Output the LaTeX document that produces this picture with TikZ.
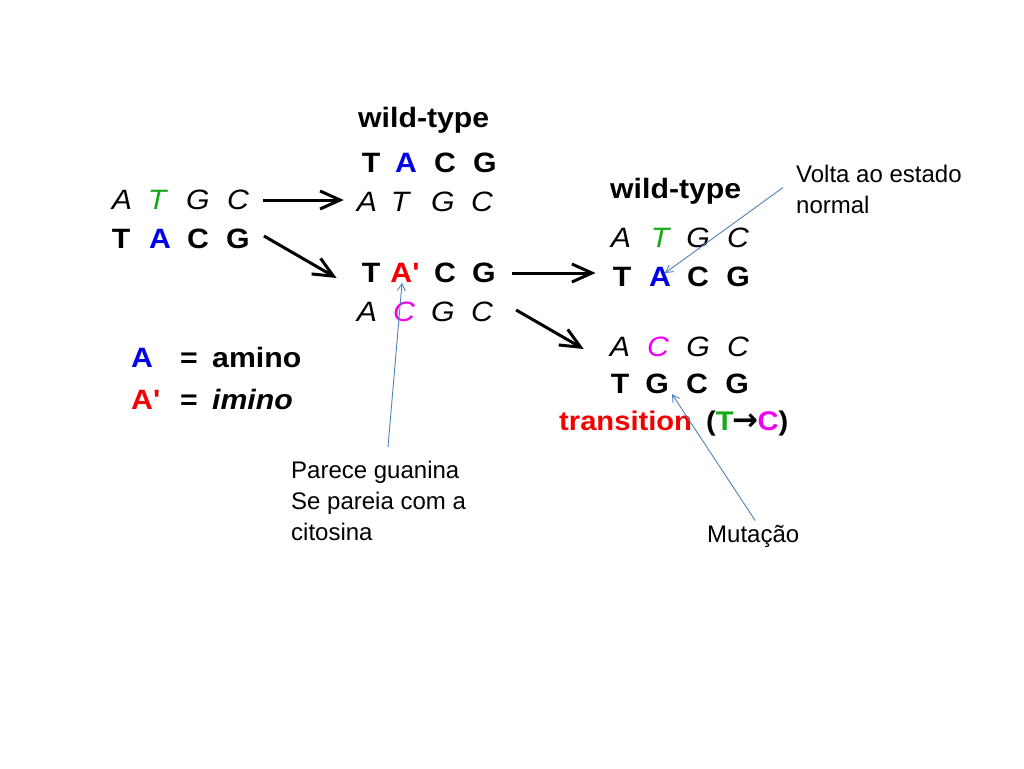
\documentclass[tikz,border=0pt]{standalone}
\usepackage{fontspec}
\setmainfont{Liberation Sans}
\newfontfamily\slidefont[FakeStretch=1.08]{Liberation Sans}
\newfontfamily\arrowfont{DejaVu Sans}
\usepackage{tikz}
\usetikzlibrary{arrows.meta, positioning}
\definecolor{aminoblue}{RGB}{0,0,235}
\definecolor{basegreen}{RGB}{20,170,20}
\definecolor{basered}{RGB}{245,0,0}
\definecolor{basemag}{RGB}{240,0,240}
\definecolor{calloutblue}{RGB}{79,129,189}
\tikzset{
  boldbase/.style={inner sep=0pt, font=\slidefont\fontsize{28}{28}\selectfont\bfseries},
  italbase/.style={inner sep=0pt, font=\slidefont\fontsize{28}{28}\selectfont\itshape},
  title/.style={inner sep=0pt, anchor=base west, font=\slidefont\fontsize{28}{28}\selectfont\bfseries},
  legend/.style={inner sep=0pt, anchor=base west, font=\slidefont\fontsize{28}{28}\selectfont\bfseries},
  note/.style={inner sep=0pt, align=left, font=\fontsize{24}{31}\selectfont},
  fatarrow/.style={line width=3pt, -{Straight Barb[length=20pt,width=18pt]}},
  callout/.style={draw=calloutblue, line width=0.9pt, -{Straight Barb[length=7pt,width=8pt]}}
}

\begin{document}
\begin{tikzpicture}[x=1pt, y=-1pt]
\useasboundingbox (0,0) rectangle (1024,768);
% left: starting pair
\node[italbase] (la1) at (122,200) {A}; \node[italbase, text=basegreen] (la2) at (157,200) {T}; \node[italbase] (la3) at (198,200) {G}; \node[italbase] (la4) at (238,200) {C};
\node[boldbase] (lb1) at (121,239) {T}; \node[boldbase, text=aminoblue] (lb2) at (160,239) {A}; \node[boldbase] (lb3) at (198,239) {C}; \node[boldbase] (lb4) at (238,239) {G};
% middle column
\node[title] (wt1) at (358,127) {wild-type};
\node[boldbase] (ma1) at (371,163) {T}; \node[boldbase, text=aminoblue] (ma2) at (406,163) {A}; \node[boldbase] (ma3) at (445,163) {C}; \node[boldbase] (ma4) at (485,163) {G};
\node[italbase] (mb1) at (367,202) {A}; \node[italbase] (mb2) at (400,202) {T}; \node[italbase] (mb3) at (443,202) {G}; \node[italbase] (mb4) at (482,202) {C};
\node[boldbase] (mc1) at (371,273) {T}; \node[boldbase, text=basered] (mc2) at (405,273) {A'}; \node[boldbase] (mc3) at (445,273) {C}; \node[boldbase] (mc4) at (484,273) {G};
\node[italbase] (md1) at (367,312) {A}; \node[italbase, text=basemag] (md2) at (404,312) {C}; \node[italbase] (md3) at (443,312) {G}; \node[italbase] (md4) at (482,312) {C};
% right column
\node[title] (wt2) at (610,198) {wild-type};
\node[italbase] (ra1) at (621,238) {A}; \node[italbase, text=basegreen] (ra2) at (660,238) {T}; \node[italbase] (ra3) at (698,238) {G}; \node[italbase] (ra4) at (738,238) {C};
\node[boldbase] (rb1) at (622,277) {T}; \node[boldbase, text=aminoblue] (rb2) at (660,277) {A}; \node[boldbase] (rb3) at (698,277) {C}; \node[boldbase] (rb4) at (738,277) {G};
\node[italbase] (rc1) at (620,347) {A}; \node[italbase, text=basemag] (rc2) at (658,347) {C}; \node[italbase] (rc3) at (698,347) {G}; \node[italbase] (rc4) at (738,347) {C};
\node[boldbase] (rd1) at (620,384) {T}; \node[boldbase] (rd2) at (657,384) {G}; \node[boldbase] (rd3) at (697,384) {C}; \node[boldbase] (rd4) at (737,384) {G};
\node[title, font=\slidefont\fontsize{27}{27}\selectfont\bfseries] (trans) at (559,430) {\textcolor{basered}{transition}\hspace{6pt} (\textcolor{basegreen}{T}{\arrowfont\bfseries\fontsize{31}{31}\selectfont\kern-1pt→\kern-1pt}\textcolor{basemag}{C})};
% legend
\node[legend, text=aminoblue] (keyA) at (131,367) {A};
\node[legend] (eqA) at (180,367) {=};
\node[legend] (amino) at (212,367) {amino};
\node[legend, text=basered] (keyAp) at (131,409) {A'};
\node[legend] (eqAp) at (180,409) {=};
\node[legend, font=\slidefont\fontsize{28}{28}\selectfont\bfseries\itshape] (imino) at (212,409) {imino};
% big arrows
\draw[fatarrow] ([xshift=14pt]la4.east) -- ([xshift=-13pt]la4.east -| mb1.west);
\draw[fatarrow] ([xshift=14pt,yshift=3pt]lb4.east) -- ([xshift=-25pt,yshift=-5pt]mc1.west);
\draw[fatarrow] ([xshift=16pt]mc4.east) -- ([xshift=-17pt]mc4.east -| rb1.west);
\draw[fatarrow] ([xshift=23pt,yshift=2pt]md4.east) -- ([xshift=-26pt,yshift=-2pt]rc1.west);
% notes
\node[note, anchor=north west] (volta) at (796,165) {Volta ao estado\\normal};
\node[note, anchor=north west] (parece) at (291,461) {Parece guanina\\Se pareia com a\\citosina};
\node[note, anchor=base west] (mutacao) at (707,542) {Mutação};
\draw[callout] ([xshift=-13pt,yshift=2pt]volta.west) -- ([xshift=5pt,yshift=4pt]rb2.center);
\draw[callout] ([xshift=97pt]parece.north west) ++(0,-14) -- ([xshift=-3pt]mc2.south);
\draw[callout] ([xshift=2pt,yshift=4pt]mutacao.north) -- ([xshift=15pt]rd2.south);
\end{tikzpicture}
\end{document}
